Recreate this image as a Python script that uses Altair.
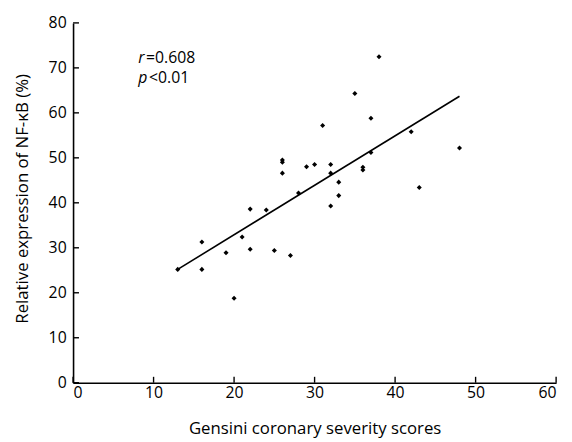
import altair as alt
import pandas as pd

# Data
gensini = [13, 16, 16, 19, 20, 21, 22, 22, 24, 25,
           26, 26, 26, 27, 28, 29, 30, 31, 32, 32,
           32, 33, 33, 35, 36, 36, 37, 37, 38, 42,
           43, 48]
nfkb = [25.2, 31.3, 25.2, 28.9, 18.8, 32.4, 38.6, 29.7, 38.4, 29.4,
        49.5, 49.0, 46.6, 28.3, 42.2, 48.0, 48.5, 57.2, 48.5, 46.6,
        39.3, 44.6, 41.6, 64.3, 47.9, 47.3, 58.8, 51.2, 72.5, 55.8,
        43.4, 52.2]
fit_x = [13, 48]
fit_y = [25.2, 63.7]
x_ticks = [0, 10, 20, 30, 40, 50, 60]
y_ticks = [0, 10, 20, 30, 40, 50, 60, 70, 80]
x_title = "Gensini coronary severity scores"
y_title = "Relative expression of NF-κB (%)"
ann_sym = ["r", "p"]
ann_val = ["=0.608", "<0.01"]

FONT = "Open Sans"
W, H = 490, 365

pts = pd.DataFrame({"x": gensini, "y": nfkb})
fit = pd.DataFrame({"x": fit_x, "y": fit_y})
xt = pd.DataFrame({"x": x_ticks})
yt = pd.DataFrame({"y": y_ticks})

xs = alt.Scale(domain=[0, 60], nice=False, zero=True)
ys = alt.Scale(domain=[0, 80], nice=False, zero=True)

x_axis = alt.Axis(values=x_ticks, ticks=False, grid=False, domainColor="black",
                  domainWidth=1.6, labelFont=FONT, labelFontSize=16,
                  labelColor="black", labelPadding=2, title=x_title,
                  titleFont=FONT, titleFontSize=17, titleFontWeight="normal",
                  titleColor="black", titleBaseline="middle", titleY=47)
y_axis = alt.Axis(values=y_ticks, ticks=False, grid=False, domainColor="black",
                  domainWidth=1.6, labelFont=FONT, labelFontSize=16,
                  labelColor="black", labelPadding=7, title=y_title,
                  titleFont=FONT, titleFontSize=17, titleFontWeight="normal",
                  titleColor="black", titleBaseline="middle", titleX=-51,
                  titleY=178)

X = alt.X("x:Q", scale=xs, axis=x_axis)
Y = alt.Y("y:Q", scale=ys, axis=y_axis)

points = alt.Chart(pts).mark_point(shape="diamond", filled=True, size=26,
                                   color="black", opacity=1).encode(x=X, y=Y)

line = alt.Chart(fit).mark_line(color="black", strokeWidth=1.6).encode(x=X, y=Y)

xtick = alt.Chart(xt).mark_rule(color="black", strokeWidth=1.4).encode(
    x=X,
    y=alt.value(H),
    y2=alt.value(H - 6),
)
ytick = alt.Chart(yt).mark_rule(color="black", strokeWidth=1.4).encode(
    y=Y,
    x=alt.value(0),
    x2=alt.value(6),
)


def ann(sym, val, ybase, gap):
    d = pd.DataFrame({"s": [sym], "v": [val]})
    a = alt.Chart(d).mark_text(font=FONT, fontSize=16, fontStyle="italic",
                               align="left", baseline="alphabetic",
                               color="black").encode(
        text="s:N", x=alt.value(66), y=alt.value(ybase))
    b = alt.Chart(d).mark_text(font=FONT, fontSize=16, align="left",
                               baseline="alphabetic", color="black").encode(
        text="v:N", x=alt.value(66 + gap), y=alt.value(ybase))
    return [a, b]


layers = [line, points, xtick, ytick] + ann(ann_sym[0], ann_val[0], 41, 8) + \
    ann(ann_sym[1], ann_val[1], 61, 11)

chart = alt.layer(*layers).properties(
    width=W, height=H,
    autosize=alt.AutoSizeParams(type="none"),
    padding={"left": 66, "top": 12, "right": 8, "bottom": 57},
).configure_view(stroke=None)

chart.save("out.html", embed_options={"renderer": "svg", "actions": False})
